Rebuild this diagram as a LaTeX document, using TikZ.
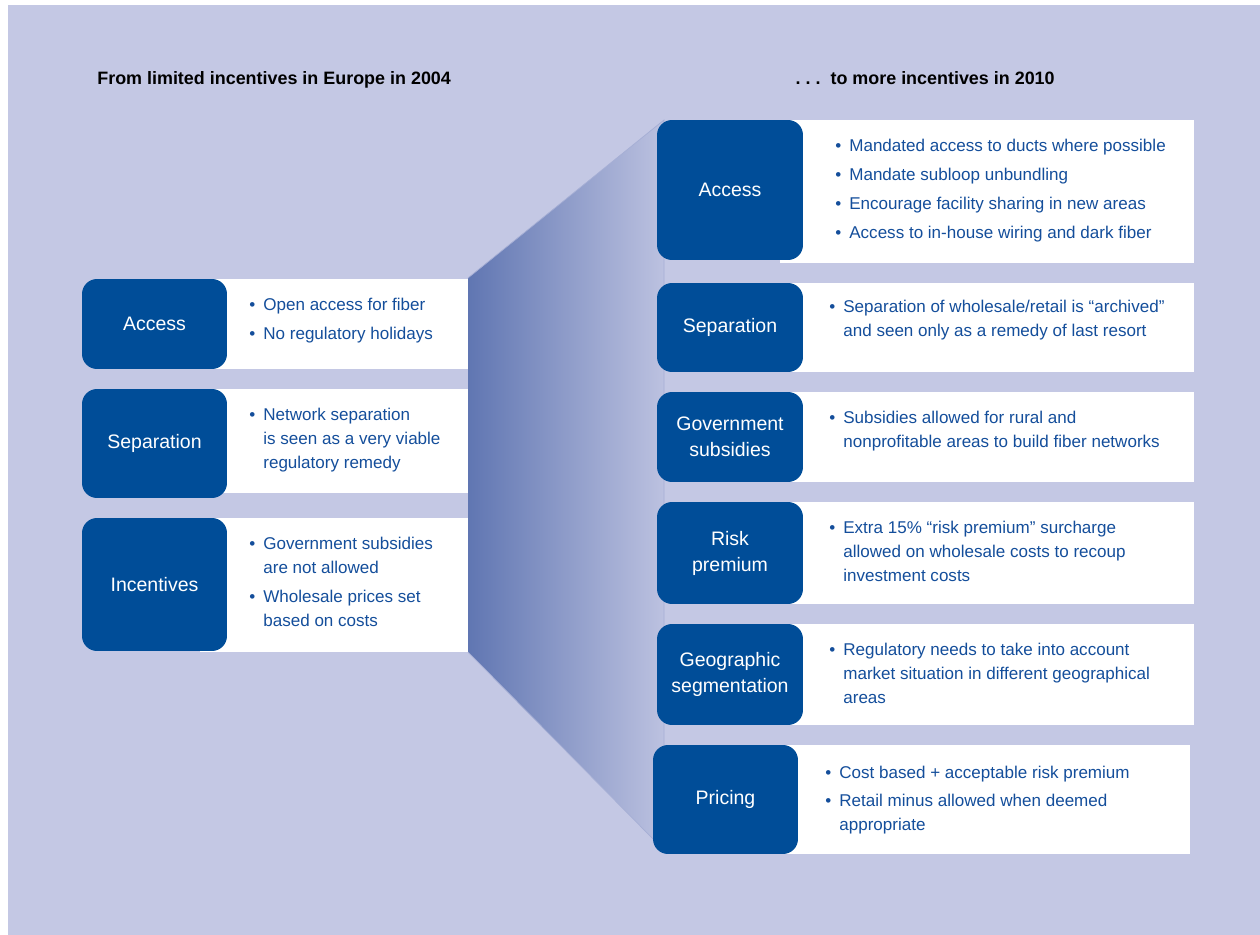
\documentclass[tikz,border=0pt]{standalone}
\usepackage{fontspec}
\setmainfont{Liberation Sans}
\definecolor{figBg}{RGB}{196,200,228}
\definecolor{figBlue}{RGB}{0,77,152}
\definecolor{figText}{RGB}{20,78,155}
\definecolor{figFun}{RGB}{96,118,178}
\newcommand\bul{\llap{\textbullet\hspace{4.5pt}}}

\begin{document}
\begin{tikzpicture}[x=0.02cm,y=-0.02cm,
  cat/.style={fill=figBlue,rounded corners=0.3cm,text=white,align=center,inner sep=0pt,
    font=\fontsize{11.1}{14.8}\selectfont},
  item/.style={anchor=base west,inner sep=0pt,text=figText,font=\fontsize{9.7}{12}\selectfont},
  head/.style={inner sep=0pt,font=\bfseries\fontsize{10.2}{12}\selectfont}]
\useasboundingbox (0,0) rectangle (1260,935);
\fill[figBg] (8,5) rectangle (1260,935);
% funnel between the two columns
\shade[left color=figFun,right color=figBg!92!figFun] (468,278) -- (664,120) -- (664,850) -- (468,652) -- cycle;
\draw[figBg!70!figFun,thin] (468,278) -- (664,120) -- (664,850) -- (468,652);
% headings
\node[head,anchor=base west] (hLeft) at (97,85) {From limited incentives in Europe in 2004};
\node[head,anchor=base east] (hRight) at (1055,85) {.\ .\ .\ \ to more incentives in 2010};
% left column
\fill[white] (200,279) rectangle (468,369);
\fill[white] (200,389) rectangle (468,493);
\fill[white] (200,518) rectangle (468,652);
\node[cat,minimum width=2.9cm,minimum height=1.8cm] (lAcc) at (154.5,324) {Access};
\node[cat,minimum width=2.9cm,minimum height=2.18cm] (lSep) at (154.5,443.5) {Separation};
\node[cat,minimum width=2.9cm,minimum height=2.66cm] (lInc) at (154.5,584.5) {Incentives};
\foreach \y/\t [count=\i] in {311/\bul Open access for fiber,340/\bul No regulatory holidays,
  420/\bul Network separation,444/is seen as a very viable,468/regulatory remedy,
  549/\bul Government subsidies,573/are not allowed,602/\bul Wholesale prices set,626/based on costs}
  \node[item] (lT\i) at (263,\y) {\t};
% right column
\fill[white] (780,120) rectangle (1194,263);
\fill[white] (780,283) rectangle (1194,372);
\fill[white] (780,392) rectangle (1194,482);
\fill[white] (780,502) rectangle (1194,604);
\fill[white] (780,624) rectangle (1194,725);
\fill[white] (775,745) rectangle (1190,854);
\node[cat,minimum width=2.92cm,minimum height=2.8cm] (rAcc) at (730,190) {Access};
\node[cat,minimum width=2.92cm,minimum height=1.78cm] (rSep) at (730,327.5) {Separation};
\node[cat,minimum width=2.92cm,minimum height=1.8cm] (rGov) at (730,437) {Government\\subsidies};
\node[cat,minimum width=2.92cm,minimum height=2.04cm] (rRisk) at (730,553) {Risk\\premium};
\node[cat,minimum width=2.92cm,minimum height=2.02cm] (rGeo) at (730,674.5) {Geographic\\segmentation};
\node[cat,minimum width=2.9cm,minimum height=2.18cm] (rPri) at (725.5,799.5) {Pricing};
\foreach \y/\t [count=\i] in {152/\bul Mandated access to ducts where possible,181/\bul Mandate subloop unbundling,
  210/\bul Encourage facility sharing in new areas,239/\bul Access to in-house wiring and dark fiber}
  \node[item] (rA\i) at (849,\y) {\t};
\foreach \y/\t [count=\i] in {313/{\bul Separation of wholesale/retail is “archived”},337/and seen only as a remedy of last resort,
  423/\bul Subsidies allowed for rural and,447/nonprofitable areas to build fiber networks,
  533/\bul Extra 15\% “risk premium” surcharge,557/allowed on wholesale costs to recoup,581/investment costs,
  655/\bul Regulatory needs to take into account,679/market situation in different geographical,703/areas}
  \node[item] (rT\i) at (843,\y) {\t};
\foreach \y/\t [count=\i] in {778/\bul Cost based + acceptable risk premium,806/\bul Retail minus allowed when deemed,830/appropriate}
  \node[item] (rP\i) at (839,\y) {\t};
\end{tikzpicture}
\end{document}
